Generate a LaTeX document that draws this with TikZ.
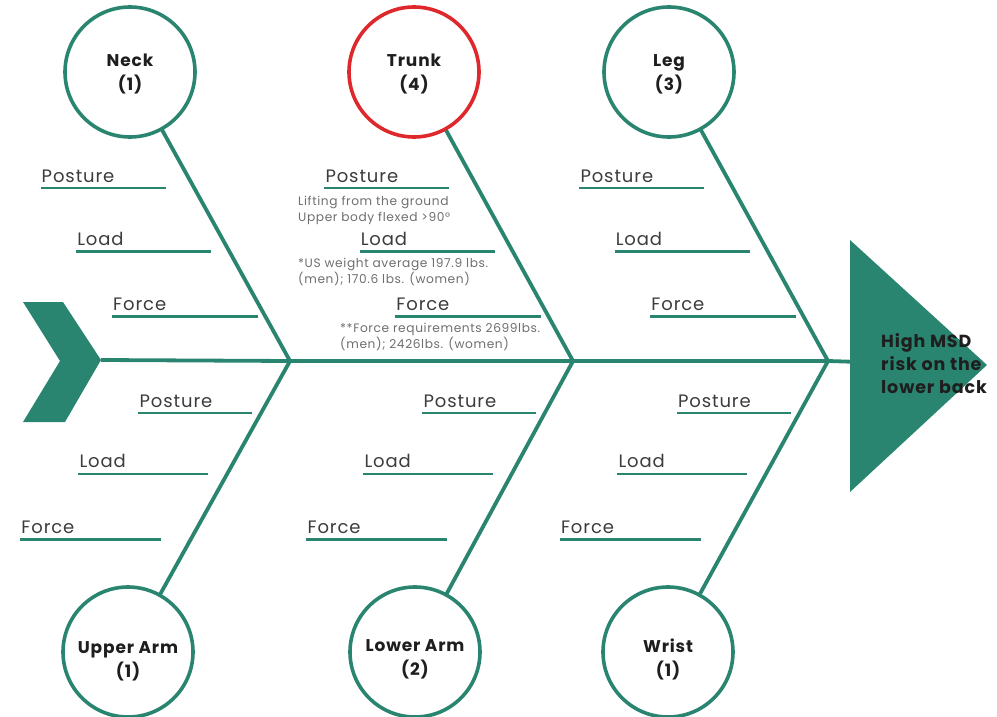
\documentclass[tikz,border=0pt]{standalone}
\usepackage{fontspec}
\setmainfont{Poppins}
\newfontfamily\widefont[LetterSpace=5]{Poppins}
\usetikzlibrary{calc}
\definecolor{fish}{RGB}{42,133,112}
\definecolor{redring}{RGB}{222,40,44}
\definecolor{lblcol}{RGB}{60,60,60}
\definecolor{notecol}{RGB}{110,110,110}
\definecolor{titlecol}{RGB}{30,30,30}
\begin{document}
\begin{tikzpicture}[x=1pt,y=-1pt,
  bone/.style={draw=fish, line width=3.8pt},
  branch/.style={draw=fish, line width=2.6pt},
  circ/.style={circle, draw=fish, line width=3.6pt, minimum size=130pt, fill=white, inner sep=0pt},
  ctext/.style={font=\widefont\fontsize{17}{24}\selectfont\bfseries, text=titlecol, align=center, inner sep=0pt},
  lbl/.style={font=\widefont\fontsize{18}{20}\selectfont, text=lblcol, inner sep=0pt, anchor=base west},
  note/.style={font=\widefont\fontsize{12.2}{16}\selectfont, text=notecol, align=left, inner sep=0pt, anchor=base west}]
\useasboundingbox (0,0) rectangle (997,717);

% chevron (start) and goal triangle
\fill[fish] (23,302) -- (63,302) -- (101,360) -- (65,422) -- (23,422) -- (60,361) -- cycle;
\coordinate (tail) at (101,360);
\coordinate (j1) at (290,361);
\coordinate (j2) at (573,361);
\coordinate (j3) at (828,361);
\coordinate (head) at (860,362);
\draw[bone] (tail) -- (j1) -- (j2) -- (j3) -- (head);
\fill[fish] (850,240) -- (850,492) -- (987,365) -- cycle;
\node[anchor=west, align=left, inner sep=0pt, text=titlecol,
      font=\widefont\fontsize{17.5}{23}\selectfont\bfseries] (goal) at (881,364) {High MSD\\risk on the\\lower back};

% circles
\coordinate (cneck) at (130,72);
\coordinate (ctrunk) at (414,72);
\coordinate (cleg) at (669,72);
\coordinate (cuarm) at (128,652);
\coordinate (clarm) at (415,652);
\coordinate (cwrist) at (668,652);

% bones
\draw[bone] (cneck) -- (j1) -- (cuarm);
\draw[bone] (ctrunk) -- (j2) -- (clarm);
\draw[bone] (cleg) -- (j3) -- (cwrist);

\node[circ] (neck) at (cneck) {};
\node[circ, draw=redring] (trunk) at (ctrunk) {};
\node[circ] (leg) at (cleg) {};
\node[circ] (uarm) at (cuarm) {};
\node[circ] (larm) at (clarm) {};
\node[circ] (wrist) at (cwrist) {};

\node[ctext] (neckT) at ([yshift=-2pt]neck.center) {Neck\\(1)};
\node[ctext] (trunkT) at ([yshift=-2pt]trunk.center) {Trunk\\(4)};
\node[ctext] (legT) at ([yshift=-2pt]leg.center) {Leg\\(3)};
\node[ctext] (uarmT) at ([yshift=-9pt]uarm.center) {Upper Arm\\(1)};
\node[ctext] (larmT) at ([yshift=-7pt]larm.center) {Lower Arm\\(2)};
\node[ctext] (wristT) at ([yshift=-7pt]wrist.center) {Wrist\\(1)};

% upper branches
\foreach \c/\j in {neck/j1, trunk/j2, leg/j3}{
  \foreach \t/\len/\lab in {0.222/125/Posture, 0.507/135/Load, 0.80/146/Force}{
    \path ($(\c.south)!\t!(\j)$) coordinate (p);
    \draw[branch] (p) -- ++(-\len,0) coordinate (q);
    \node[lbl] (\c-\lab) at ([xshift=1pt,yshift=6pt]q) {\lab};
  }
}
% lower branches
\foreach \c/\j in {uarm/j1, larm/j2, wrist/j3}{
  \foreach \t/\len/\lab in {0.232/114/Posture, 0.504/130/Load, 0.795/141/Force}{
    \path ($(\j)!\t!(\c.north)$) coordinate (p);
    \draw[branch] (p) -- ++(-\len,0) coordinate (q);
    \node[lbl] (\c-\lab) at ([xshift=1pt,yshift=6pt]q) {\lab};
  }
}

% trunk notes (anchor = baseline of last line)
\node[note] (n1) at (298,221) {Lifting from the ground\\Upper body flexed >90°};
\node[note] (n2) at (298,283) {*US weight average 197.9 lbs.\\(men); 170.6 lbs. (women)};
\node[note] (n3) at (340,348) {**Force requirements 2699lbs.\\(men); 2426lbs. (women)};
\end{tikzpicture}
\end{document}
